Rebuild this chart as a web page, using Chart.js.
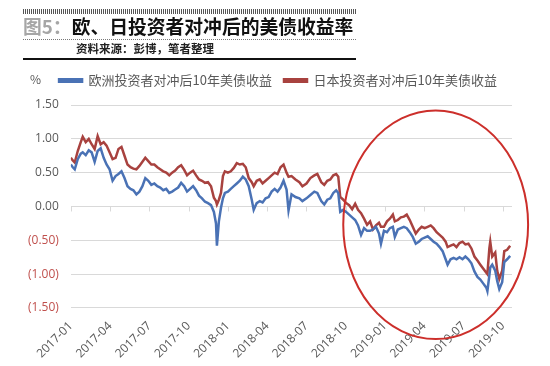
<!DOCTYPE html>
<html>
<head>
<meta charset="utf-8">
<script src="https://cdn.jsdelivr.net/npm/chart.js@4/dist/chart.umd.min.js"></script>
<style>
  html, body { margin: 0; padding: 0; background: #fff; }
  body { width: 550px; height: 366px; position: relative; overflow: hidden;
         font-family: "Noto Sans CJK SC", "Noto Sans", sans-serif; }
  #wrap { position: absolute; left: 0; top: 0; width: 550px; height: 366px; }
  .hatch { position: absolute; left: 23px; top: 9px; width: 333px; height: 5px;
           background: repeating-linear-gradient(90deg, #555 0 1px, #fff 1px 2px); }
  .title { position: absolute; left: 23px; top: 13px; font-size: 18.8px; font-weight: bold;
           line-height: 26px; white-space: nowrap; color: #111; }
  .title .fig { color: #a6a6a6; }
  .dots { position: absolute; left: 23px; top: 39px; width: 333px; height: 1px;
          background: repeating-linear-gradient(90deg, #777 0 1px, #fff 1px 2px); }
  .sub { position: absolute; left: 76px; top: 40px; font-size: 11.5px; font-weight: bold;
         line-height: 16px; color: #222; white-space: nowrap; }
  .rule { position: absolute; left: 23px; top: 58px; width: 333px; height: 2px; background: #111; }
  .pct { position: absolute; left: 30px; top: 70px; font-size: 12px; color: #595959; }
</style>
</head>
<body>
<div id="wrap"><canvas id="chart" width="550" height="366"></canvas></div>
<div class="hatch"></div>
<div class="title"><span class="fig">图5：</span>欧、日投资者对冲后的美债收益率</div>
<div class="dots"></div>
<div class="sub">资料来源：彭博，笔者整理</div>
<div class="rule"></div>
<div class="pct">%</div>
<script>
// months since 2017-01
const months = [
  0, 0.15, 0.30, 0.53, 0.76, 0.91, 1.14, 1.37, 1.59, 1.82, 2.05, 2.28, 2.51, 2.73, 2.96,
  3.19, 3.42, 3.64, 3.87, 4.10, 4.33, 4.56, 4.78, 5.01, 5.24, 5.47, 5.69, 5.92, 6.15, 6.38,
  6.61, 6.83, 7.06, 7.29, 7.52, 7.74, 7.97, 8.20, 8.43, 8.66, 8.88, 9.11, 9.34, 9.57, 9.79,
  10.02, 10.25, 10.48, 10.71, 10.93, 11.09, 11.16, 11.31, 11.47, 11.62, 11.77, 12.00, 12.22, 12.45, 12.68,
  12.91, 13.14, 13.36, 13.59, 13.82, 13.97, 14.20, 14.43, 14.65, 14.88, 15.11, 15.34, 15.57, 15.79, 16.02,
  16.25, 16.48, 16.63, 16.86, 17.16, 17.46, 17.69, 18.00, 18.30, 18.60, 18.83, 19.13, 19.36, 19.59, 19.82,
  20.05, 20.27, 20.43, 20.58, 20.81, 21.03, 21.26, 21.49, 21.72, 21.94, 22.17, 22.40, 22.63, 22.86, 23.08,
  23.31, 23.54, 23.69, 23.92, 24.15, 24.37, 24.60, 24.75, 24.98, 25.21, 25.44, 25.66, 25.89, 26.12, 26.35,
  26.58, 26.80, 27.03, 27.26, 27.49, 27.71, 27.94, 28.17, 28.40, 28.63, 28.78, 29.01, 29.24, 29.46, 29.69,
  29.92, 30.14, 30.37, 30.60, 30.83, 31.06, 31.28, 31.51, 31.74, 31.82, 31.97, 32.04, 32.19, 32.42, 32.57,
  32.73, 32.95, 33.11, 33.33, 33.56
];

const europe = [
  0.62, 0.58, 0.55, 0.70, 0.78, 0.80, 0.76, 0.83, 0.80, 0.66, 0.82, 0.86, 0.72, 0.62, 0.55,
  0.38, 0.45, 0.48, 0.52, 0.42, 0.30, 0.26, 0.24, 0.18, 0.22, 0.30, 0.42, 0.38, 0.32, 0.34,
  0.30, 0.28, 0.24, 0.26, 0.20, 0.22, 0.25, 0.28, 0.35, 0.30, 0.22, 0.26, 0.30, 0.24, 0.16,
  0.12, 0.07, 0.05, 0.02, -0.08, -0.25, -0.58, -0.22, -0.02, 0.12, 0.20, 0.22, 0.26, 0.30, 0.34,
  0.38, 0.44, 0.40, 0.30, 0.10, -0.05, 0.05, 0.08, 0.06, 0.12, 0.14, 0.22, 0.26, 0.22, 0.28,
  0.38, 0.25, -0.06, 0.18, 0.14, 0.12, 0.08, 0.12, 0.17, 0.22, 0.20, 0.08, 0.03, 0.10, 0.12,
  0.20, 0.24, 0.20, -0.08, -0.05, -0.08, -0.12, -0.16, -0.20, -0.28, -0.42, -0.32, -0.36, -0.36, -0.34,
  -0.30, -0.40, -0.55, -0.36, -0.38, -0.32, -0.30, -0.45, -0.34, -0.32, -0.30, -0.32, -0.38, -0.45, -0.55,
  -0.52, -0.48, -0.46, -0.44, -0.48, -0.52, -0.55, -0.60, -0.66, -0.78, -0.86, -0.78, -0.76, -0.78, -0.75,
  -0.78, -0.74, -0.78, -0.84, -0.96, -1.04, -1.08, -1.14, -1.20, -1.25, -1.02, -0.90, -0.86, -0.95, -1.10,
  -1.22, -1.12, -0.82, -0.78, -0.73
];

const japan = [
  0.72, 0.68, 0.65, 0.82, 0.95, 1.03, 0.95, 1.00, 0.92, 0.85, 1.04, 0.92, 0.95, 0.90, 0.80,
  0.70, 0.72, 0.85, 0.88, 0.75, 0.62, 0.58, 0.56, 0.55, 0.60, 0.66, 0.72, 0.67, 0.62, 0.62,
  0.58, 0.55, 0.52, 0.50, 0.46, 0.50, 0.53, 0.58, 0.61, 0.54, 0.46, 0.50, 0.53, 0.46, 0.40,
  0.38, 0.35, 0.36, 0.30, 0.13, 0.08, 0.03, 0.10, 0.20, 0.45, 0.52, 0.50, 0.52, 0.57, 0.64,
  0.62, 0.63, 0.58, 0.42, 0.36, 0.30, 0.38, 0.40, 0.34, 0.38, 0.42, 0.46, 0.50, 0.48, 0.58,
  0.62, 0.50, 0.44, 0.45, 0.40, 0.36, 0.30, 0.34, 0.42, 0.46, 0.48, 0.36, 0.32, 0.38, 0.40,
  0.46, 0.48, 0.44, 0.14, 0.10, 0.05, 0.02, -0.04, 0.04, -0.05, -0.10, -0.18, -0.27, -0.22, -0.34,
  -0.28, -0.24, -0.30, -0.30, -0.22, -0.18, -0.12, -0.22, -0.20, -0.16, -0.15, -0.12, -0.20, -0.30, -0.40,
  -0.34, -0.30, -0.32, -0.30, -0.28, -0.32, -0.38, -0.42, -0.46, -0.52, -0.60, -0.58, -0.56, -0.60, -0.54,
  -0.52, -0.56, -0.55, -0.62, -0.74, -0.80, -0.86, -0.92, -0.98, -1.00, -0.62, -0.52, -0.74, -0.68, -0.95,
  -1.07, -0.95, -0.66, -0.64, -0.58
];

const tickMonths = [0, 3, 6, 9, 12, 15, 18, 21, 24, 27, 30, 33];
const tickLabels = ['2017-01', '2017-04', '2017-07', '2017-10', '2018-01', '2018-04',
                    '2018-07', '2018-10', '2019-01', '2019-04', '2019-07', '2019-10'];
const seriesNames = ['欧洲投资者对冲后10年美债收益', '日本投资者对冲后10年美债收益'];

// highlight ellipse, in data units: centre month / value, half-width months / half-height value
const ring = { month: 27.87, value: -0.27, rMonths: 7.06, rValue: 1.69 };

const gray = '#595959';
const negRed = '#c0504d';

const zeroTicks = {
    id: 'zeroTicks',
    beforeDatasetsDraw(chart) {
        const { ctx, scales: { x, y } } = chart;
        const y0 = y.getPixelForValue(0);
        ctx.save();
        ctx.strokeStyle = '#d9d9d9';
        ctx.lineWidth = 1;
        tickMonths.forEach(m => {
            const px = Math.round(x.getPixelForValue(m)) + 0.5;
            ctx.beginPath();
            ctx.moveTo(px, y0);
            ctx.lineTo(px, y0 + 5);
            ctx.stroke();
        });
        ctx.restore();
    }
};

const ringPlugin = {
    id: 'ring',
    afterDraw(chart) {
        const { ctx, scales: { x, y } } = chart;
        const cx = x.getPixelForValue(ring.month);
        const cy = y.getPixelForValue(ring.value);
        const rx = x.getPixelForValue(ring.month + ring.rMonths) - cx;
        const ry = cy - y.getPixelForValue(ring.value + ring.rValue);
        ctx.save();
        ctx.strokeStyle = '#cc2f2b';
        ctx.lineWidth = 2;
        ctx.beginPath();
        ctx.ellipse(cx, cy, rx, ry, 0, 0, Math.PI * 2);
        ctx.stroke();
        ctx.restore();
    }
};

// legend: a bit more room below it, and nudged right like the original
const legendTweak = {
    id: 'legendTweak',
    beforeLayout(chart) {
        const lg = chart.legend;
        if (lg && !lg._patched) {
            const fit = lg.fit;
            lg.fit = function () {
                fit.call(this);
                this.height += 8;
            };
            lg._patched = true;
        }
    },
    afterLayout(chart) {
        chart.legend.left += 14;
        chart.legend.right += 14;
    }
};

const ctx = document.getElementById('chart').getContext('2d');

new Chart(ctx, {
    type: 'line',
    data: {
        datasets: [{
            label: seriesNames[0],
            data: months.map((m, i) => ({ x: m, y: europe[i] })),
            borderColor: '#4a72b5',
            backgroundColor: '#4a72b5',
            borderWidth: 2.5,
            pointRadius: 0,
            tension: 0
        }, {
            label: seriesNames[1],
            data: months.map((m, i) => ({ x: m, y: japan[i] })),
            borderColor: '#a8423f',
            backgroundColor: '#a8423f',
            borderWidth: 2.5,
            pointRadius: 0,
            tension: 0
        }]
    },
    options: {
        responsive: false,
        animation: false,
        layout: {
            padding: { left: 16, right: 38, top: 62, bottom: 2 }
        },
        scales: {
            x: {
                type: 'linear',
                min: 0,
                max: 33.7,
                afterBuildTicks: scale => {
                    scale.ticks = tickMonths.map(v => ({ value: v }));
                },
                grid: { display: false },
                border: { display: false },
                ticks: {
                    autoSkip: false,
                    maxRotation: 45,
                    minRotation: 45,
                    color: gray,
                    font: { size: 12, family: '"Open Sans", "Noto Sans", sans-serif' },
                    callback: value => tickLabels[tickMonths.indexOf(value)]
                }
            },
            y: {
                min: -1.5,
                max: 1.5,
                grid: { color: '#d9d9d9', drawTicks: false },
                border: { display: false },
                ticks: {
                    stepSize: 0.5,
                    padding: 12,
                    color: c => c.tick.value < 0 ? negRed : gray,
                    font: { size: 12, family: '"Open Sans", "Noto Sans", sans-serif' },
                    callback: value => value < 0 ? '(' + Math.abs(value).toFixed(2) + ')' : value.toFixed(2)
                }
            }
        },
        plugins: {
            legend: {
                display: true,
                position: 'top',
                labels: {
                    boxWidth: 23,
                    boxHeight: 2.5,
                    padding: 12,
                    color: gray,
                    font: { size: 13, family: '"Noto Sans CJK SC", sans-serif' }
                }
            },
            tooltip: { enabled: false }
        }
    },
    plugins: [zeroTicks, ringPlugin, legendTweak]
});
</script>
</body>
</html>
